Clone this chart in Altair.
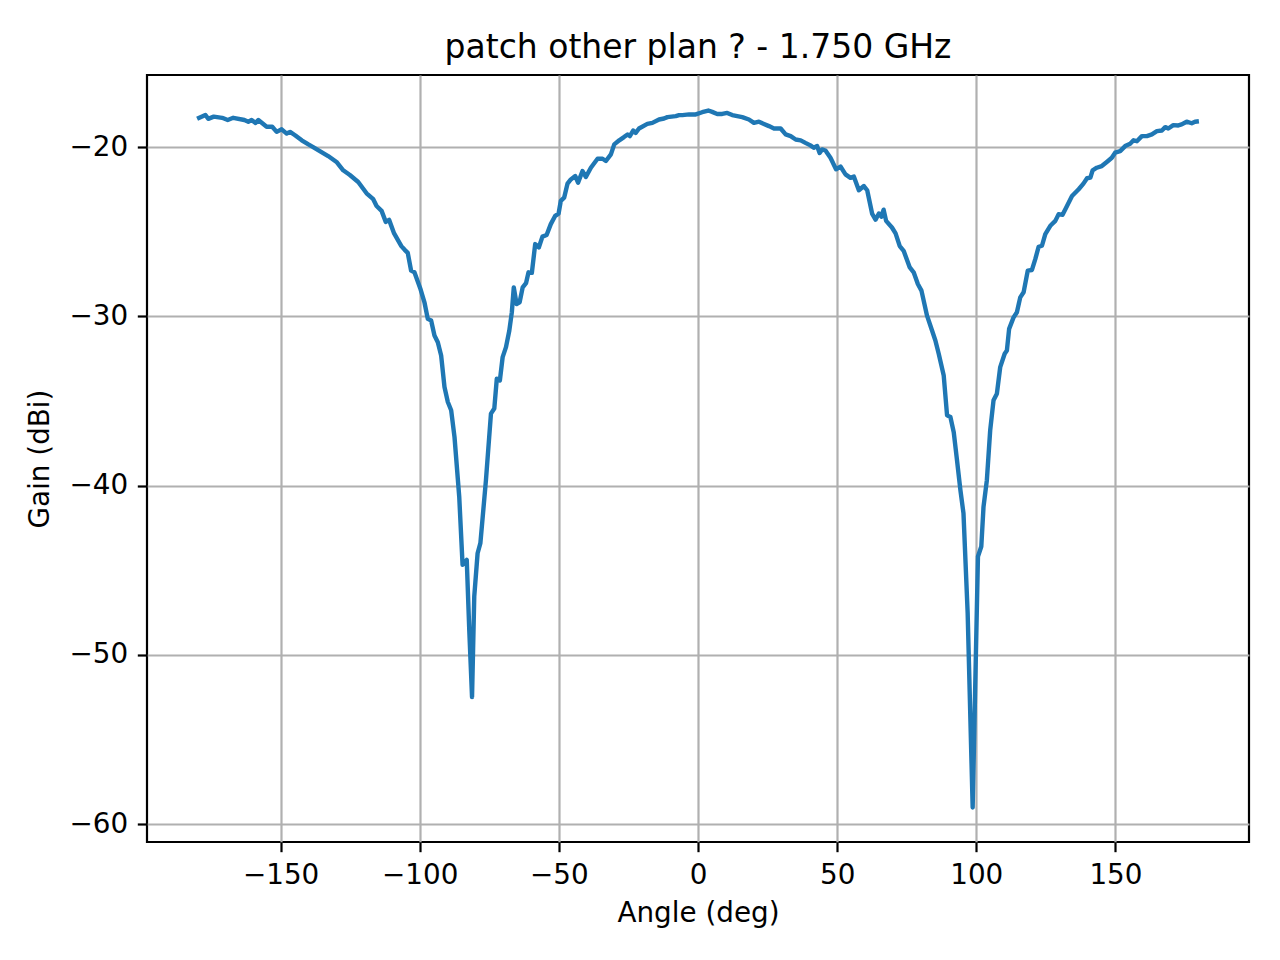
import altair as alt
import pandas as pd

angles = [
    -180, -177, -176, -174, -171, -169, -167, -163, -161.6, -160.4, -159, -158,
    -155, -153, -151.4, -149.6, -147.8, -146.6, -144.8, -142.4, -140, -138.3,
    -135.9, -132.9, -129.9, -127.5, -125.1, -122.1, -119.1, -116.7, -115.5,
    -113.7, -112.2, -111, -109.2, -106.6, -105.4, -104.3, -103.1, -101.9, -99.8,
    -98.3, -97.1, -95.9, -94.7, -93.5, -92.3, -91.1, -89.9, -88.7, -87.5, -85.8,
    -84.6, -83.1, -82.2, -81.2, -80.4, -79.2, -78.2, -76.2, -74.4, -73.2, -72.3,
    -71.2, -70.2, -69, -67.8, -66.9, -66.2, -65.2, -64.1, -63, -61.8, -60.9,
    -59.7, -58.5, -57.2, -55.9, -54.4, -52.9, -51.3, -50.1, -49.3, -48.1, -46.9,
    -45.7, -44.1, -43.1, -41.5, -40.3, -38.5, -36.1, -34.3, -33.1, -31.3, -30.1,
    -28.3, -26.6, -25.3, -24.5, -23.3, -22.4, -21.2, -18.2, -16.4, -14, -12.2,
    -11, -8, -6.8, -5.6, -3.2, -0.8, 1.5, 3.7, 5.1, 6.9, 8.7, 10.5, 12.3, 15.9,
    18.3, 20.1, 21.9, 23.7, 25.5, 27.3, 29.7, 31.5, 33.3, 35.1, 36.9, 38.6, 40.4,
    41.6, 42.8, 43.7, 44.6, 45.8, 47.6, 49.6, 51.2, 53, 54.8, 56, 57.8, 59.6,
    60.8, 62.6, 63.8, 65, 65.9, 66.7, 67.6, 69.7, 71.0, 72.5, 73.9, 76.1, 77.5,
    79, 80.3, 82.3, 84.1, 85.3, 86.5, 88.3, 89.5, 90.7, 91.9, 93.0, 94.3, 95.4,
    96.9, 98.7, 100.6, 101.8, 102.6, 103.8, 105, 106.2, 107.4, 108.6, 110.2, 111,
    111.8, 113.4, 114.6, 115.8, 117, 118.5, 120, 121.2, 122.4, 123.6, 124.8,
    126.6, 128.4, 129.6, 131, 132.6, 134.4, 136.8, 138.5, 139.8, 141, 141.8,
    143.3, 145.1, 146.9, 148.7, 149.9, 151.7, 153.5, 155.3, 156.5, 157.7, 159.5,
    161.3, 163.1, 164.9, 166.7, 167.9, 169, 170.8, 172.6, 173.8, 175.6, 177.4,
    178.6, 180,
]

gains = [
    -18.33, -18.10, -18.33, -18.20, -18.27, -18.40, -18.27, -18.40, -18.50, -18.40, -18.57, -18.40,
    -18.80, -18.80, -19.10, -18.95, -19.20, -19.10, -19.30, -19.60, -19.84, -20.00,
    -20.24, -20.53, -20.88, -21.37, -21.65, -22.06, -22.73, -23.08, -23.48,
    -23.77, -24.42, -24.30, -25.10, -25.85, -26.07, -26.25, -27.30, -27.40, -28.35,
    -29.17, -30.15, -30.25, -31.13, -31.53, -32.31, -34.18, -35.06, -35.55, -37.13, -40.66,
    -44.68, -44.39, -48.51, -52.50, -46.55, -44.00, -43.40, -39.68, -35.75, -35.45, -33.69,
    -33.79, -32.41, -31.82, -30.84, -29.76, -28.29, -29.27, -29.17, -28.29, -28.04, -27.40,
    -27.43, -25.73, -25.93, -25.29, -25.19, -24.55, -24.06, -23.93, -23.18, -22.99, -22.16,
    -21.91, -21.71, -22.10, -21.41, -21.77, -21.22, -20.69, -20.69, -20.82, -20.43, -19.84,
    -19.60, -19.41, -19.25, -19.35, -19.02, -19.16, -18.90, -18.63, -18.57, -18.37, -18.31,
    -18.23, -18.17, -18.11, -18.11, -18.07, -18.07, -17.94, -17.84, -17.92, -18.04, -18.04, -17.98, -18.11, -18.23,
    -18.37, -18.57, -18.50, -18.63, -18.76, -18.90, -18.90, -19.25, -19.35, -19.55, -19.60, -19.75, -19.90,
    -20.04, -19.94, -20.35, -20.14, -20.20, -20.63, -21.31, -21.15, -21.61, -21.82, -21.74, -22.55, -22.30,
    -22.55, -23.95, -24.29, -23.92, -24.11, -23.70, -24.36, -24.75, -25.10, -25.85, -26.13, -27.11, -27.40,
    -28.09, -28.48, -29.96, -30.84, -31.43, -32.21, -33.50, -35.85, -35.95, -36.85, -38.40, -40.27, -41.64,
    -47.53, -59.02, -44.19, -43.60, -41.25, -39.68, -36.73, -34.96, -34.57, -33.00, -32.21, -32.02,
    -30.74, -30.06, -29.76, -28.88, -28.58, -27.30, -27.26, -26.62, -25.89, -25.83, -25.14,
    -24.65, -24.36, -23.96, -24.00, -23.48, -22.89, -22.49, -22.16, -21.84, -21.80, -21.37,
    -21.22, -21.12, -20.88, -20.63, -20.33, -20.24, -19.94, -19.80, -19.60, -19.65, -19.35,
    -19.35, -19.25, -19.06, -19.02, -18.82, -18.90, -18.70, -18.72, -18.66, -18.50, -18.59,
    -18.50, -18.47,
]

x_ticks = [-150, -100, -50, 0, 50, 100, 150]
y_ticks = [-60, -50, -40, -30, -20]

df = pd.DataFrame({"angle": angles, "gain": gains})

FONT = "DejaVu Sans"

chart = (
    alt.Chart(df)
    .mark_line(color="#1f77b4", strokeWidth=4.4, strokeJoin="round", clip=True)
    .encode(
        x=alt.X(
            "angle:Q",
            scale=alt.Scale(domain=[-198, 198], nice=False, zero=False),
            axis=alt.Axis(values=x_ticks, title="Angle (deg)", format="d", titlePadding=10),
        ),
        y=alt.Y(
            "gain:Q",
            scale=alt.Scale(domain=[-61.06, -15.74], nice=False, zero=False),
            axis=alt.Axis(values=y_ticks, title="Gain (dBi)", format="d", titlePadding=14),
        ),
    )
    .properties(
        width=1102,
        height=767,
        title=alt.TitleParams(
            "patch other plan ? - 1.750 GHz",
            font=FONT,
            fontSize=33,
            fontWeight="normal",
            color="black",
            anchor="middle",
            baseline="alphabetic",
            offset=17,
            dy=33,
        ),
        autosize=alt.AutoSizeParams(type="none"),
        padding={"left": 139, "top": 67, "right": 23, "bottom": 110},
    )
    .configure_view(stroke="black", strokeWidth=2.2)
    .configure_axis(
        domain=False,
        grid=True,
        gridColor="#b0b0b0",
        gridWidth=2.2,
        ticks=True,
        tickColor="black",
        tickWidth=2.2,
        tickSize=9.7,
        labelFont=FONT,
        labelFontSize=27.8,
        labelColor="black",
        labelPadding=9.7,
        titleFont=FONT,
        titleFontSize=27.8,
        titleFontWeight="normal",
        titleColor="black",
    )
)

chart.save("out.html", embed_options={"renderer": "svg", "actions": False})
